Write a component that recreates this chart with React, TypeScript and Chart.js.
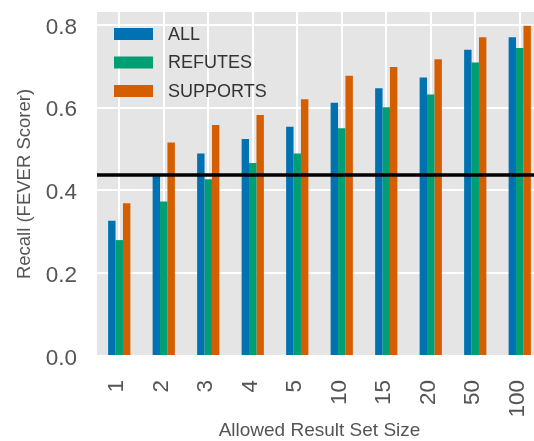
import React, { useEffect, useRef } from "react";
import { Chart, registerables } from "chart.js";

Chart.register(...registerables);

const categories = ["1", "2", "3", "4", "5", "10", "15", "20", "50", "100"];
const seriesLabels = ["ALL", "REFUTES", "SUPPORTS"];
const allValues = [0.327, 0.437, 0.489, 0.524, 0.554, 0.612, 0.647, 0.673, 0.74, 0.77];
const refutesValues = [0.28, 0.373, 0.427, 0.466, 0.489, 0.55, 0.601, 0.632, 0.709, 0.744];
const supportsValues = [0.369, 0.516, 0.558, 0.582, 0.62, 0.677, 0.698, 0.717, 0.77, 0.798];
const baselineValue = 0.4375;
const yMin = 0;
const yMax = 0.831;
const yStep = 0.2;

const colors = ["#0072B2", "#009E73", "#D55E00"];
const FONT = "'Liberation Sans', Arial, sans-serif";

const bgPlugin = {
  id: "bgPlugin",
  beforeDraw(chart: any) {
    const { ctx, chartArea } = chart;
    ctx.save();
    ctx.fillStyle = "#E5E5E5";
    ctx.fillRect(chartArea.left, chartArea.top, chartArea.right - chartArea.left, chartArea.bottom - chartArea.top);
    ctx.restore();
  },
};

const baselinePlugin = {
  id: "baselinePlugin",
  afterDatasetsDraw(chart: any) {
    const { ctx, chartArea, scales } = chart;
    const y = scales.y.getPixelForValue(baselineValue);
    ctx.save();
    ctx.strokeStyle = "#000000";
    ctx.lineWidth = 3.5;
    ctx.beginPath();
    ctx.moveTo(chartArea.left, y);
    ctx.lineTo(chartArea.right, y);
    ctx.stroke();
    ctx.restore();
  },
};

const legendPlugin = {
  id: "insideLegend",
  afterDraw(chart: any) {
    const { ctx, chartArea } = chart;
    ctx.save();
    ctx.font = `18px ${FONT}`;
    ctx.textBaseline = "middle";
    ctx.textAlign = "left";
    chart.data.datasets.forEach((ds: any, i: number) => {
      const cy = chartArea.top + 22 + i * 28.5;
      const bx = chartArea.left + 17;
      ctx.fillStyle = ds.backgroundColor;
      ctx.fillRect(bx, cy - 6, 39, 12);
      ctx.fillStyle = "#333333";
      ctx.fillText(ds.label, bx + 54, cy + 1);
    });
    ctx.restore();
  },
};

function zeroPadding(scale: any) {
  scale.paddingTop = 0;
  scale.paddingBottom = 0;
  scale.paddingLeft = 0;
  scale.paddingRight = 0;
}

export default function App() {
  const canvasRef = useRef<HTMLCanvasElement | null>(null);

  useEffect(() => {
    document.body.style.margin = "0";
    document.body.style.overflow = "hidden";
    const canvas = canvasRef.current;
    if (!canvas) return;
    const seriesValues = [allValues, refutesValues, supportsValues];
    const chart = new Chart(canvas, {
      type: "bar",
      data: {
        labels: categories,
        datasets: seriesLabels.map((label, i) => ({
          label,
          data: seriesValues[i],
          backgroundColor: colors[i],
          borderWidth: 0,
          categoryPercentage: 0.5,
          barPercentage: 1.0,
        })),
      },
      options: {
        responsive: false,
        animation: false,
        devicePixelRatio: 1,
        layout: { autoPadding: false, padding: { top: 12, left: 0, right: 0, bottom: 0 } },
        plugins: {
          legend: { display: false },
          tooltip: { enabled: false },
        },
        scales: {
          x: {
            offset: true,
            grid: { offset: false, color: "#ffffff", lineWidth: 2, drawTicks: false },
            border: { display: false },
            ticks: {
              autoSkip: false,
              minRotation: 90,
              maxRotation: 90,
              padding: 24,
              labelOffset: -2,
              color: "#555555",
              font: { family: FONT, size: 22.5 },
            },
            title: {
              display: true,
              text: "Allowed Result Set Size",
              color: "#555555",
              font: { family: FONT, size: 19, lineHeight: 1 },
              padding: { top: 0, bottom: 1 },
            },
            afterFit(scale: any) {
              scale.height = 85;
              zeroPadding(scale);
            },
          },
          y: {
            min: yMin,
            max: yMax,
            grid: { color: "#ffffff", lineWidth: 2, drawTicks: false },
            border: { display: false },
            ticks: {
              stepSize: yStep,
              includeBounds: false,
              padding: 20,
              labelOffset: 2.5,
              color: "#555555",
              font: { family: FONT, size: 22.5 },
              callback: (v: any) => Number(v).toFixed(1),
            },
            title: {
              display: true,
              text: "Recall (FEVER Scorer)",
              color: "#555555",
              font: { family: FONT, size: 18.5, lineHeight: 1 },
              padding: { top: 15.5, bottom: 0 },
            },
            afterFit(scale: any) {
              scale.width = 97;
              zeroPadding(scale);
            },
          },
        },
      },
      plugins: [bgPlugin, baselinePlugin, legendPlugin],
    });
    return () => chart.destroy();
  }, []);

  return (
    <div style={{ width: 534, height: 441, overflow: "hidden", position: "relative", background: "#ffffff" }}>
      <canvas ref={canvasRef} width={542} height={441} style={{ display: "block" }} />
    </div>
  );
}
